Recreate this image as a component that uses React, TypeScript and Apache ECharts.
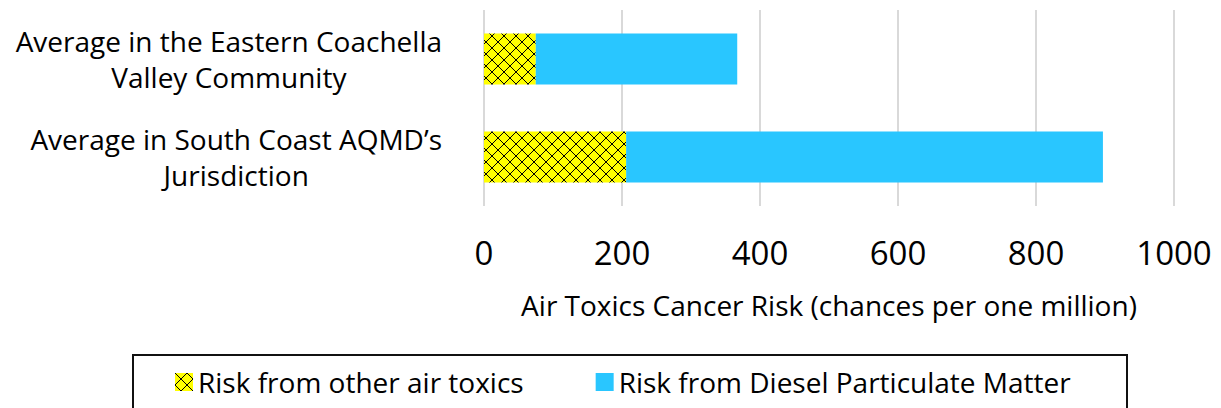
import React, { useEffect, useRef } from "react";
import * as echarts from "echarts";

const categories = [
  "Average in the Eastern Coachella\nValley Community",
  "Average in South Coast AQMD’s\nJurisdiction",
];
const otherToxics = [75, 206];
const dieselPM = [292, 691];
const seriesNames = ["Risk from other air toxics", "Risk from Diesel Particulate Matter"];
const axisName = "Air Toxics Cancer Risk (chances per one million)";

const FONT = "Open Sans";

function makePattern(): string {
  const n = 12;
  const c = document.createElement("canvas");
  c.width = n;
  c.height = n;
  const ctx = c.getContext("2d")!;
  ctx.fillStyle = "#FFFF00";
  ctx.fillRect(0, 0, n, n);
  ctx.fillStyle = "#000000";
  for (let i = 0; i < n; i++) {
    ctx.fillRect(i, i, 1, 1);
    ctx.fillRect(n - 1 - i, i, 1, 1);
  }
  return c.toDataURL();
}

export default function App() {
  const ref = useRef<HTMLDivElement>(null);
  useEffect(() => {
    document.body.style.margin = "0";
    if (!ref.current) return;
    const chart = echarts.init(ref.current, undefined, { renderer: "svg" });
    const pattern = makePattern();
    chart.setOption({
      animation: false,
      grid: { left: 484, right: 47, top: 10, bottom: 202, containLabel: false },
      xAxis: {
        type: "value",
        min: 0,
        max: 1000,
        interval: 200,
        name: axisName,
        nameLocation: "middle",
        nameGap: 85,
        nameTextStyle: { fontFamily: FONT, fontSize: 28, color: "#000" },
        axisLine: { show: false },
        axisTick: { show: false },
        axisLabel: {
          fontFamily: FONT,
          fontSize: 33,
          color: "#000",
          margin: 30,
          formatter: (v: number) => String(v),
        },
        splitLine: { show: true, lineStyle: { color: "#D9D9D9", width: 2 } },
      },
      yAxis: {
        type: "category",
        data: categories,
        inverse: true,
        axisLine: { show: false },
        axisTick: { show: false },
        axisLabel: {
          margin: 42,
          align: "right",
          formatter: (v: string) =>
            v
              .split("\n")
              .map((l) => `{c|${l}}`)
              .join("\n"),
          rich: {
            c: { align: "center", fontFamily: FONT, fontSize: 28, lineHeight: 36, color: "#000" },
          },
        },
      },
      legend: {
        left: 170,
        top: 363,
        icon: "rect",
        itemWidth: 18,
        itemHeight: 18,
        itemGap: 72,
        textStyle: { fontFamily: FONT, fontSize: 28, color: "#000" },
        data: seriesNames,
      },
      graphic: [
        {
          type: "rect",
          shape: { x: 133, y: 355, width: 994, height: 100 },
          style: { fill: "none", stroke: "#111", lineWidth: 2 },
        },
      ],
      series: [
        {
          name: seriesNames[0],
          type: "bar",
          stack: "risk",
          barWidth: 51,
          data: otherToxics,
          itemStyle: { color: { image: pattern, repeat: "repeat" } },
        },
        {
          name: seriesNames[1],
          type: "bar",
          stack: "risk",
          barWidth: 51,
          data: dieselPM,
          itemStyle: { color: "#29C6FF" },
        },
      ],
    });
    return () => chart.dispose();
  }, []);
  return <div ref={ref} style={{ width: 1221, height: 408 }} />;
}
